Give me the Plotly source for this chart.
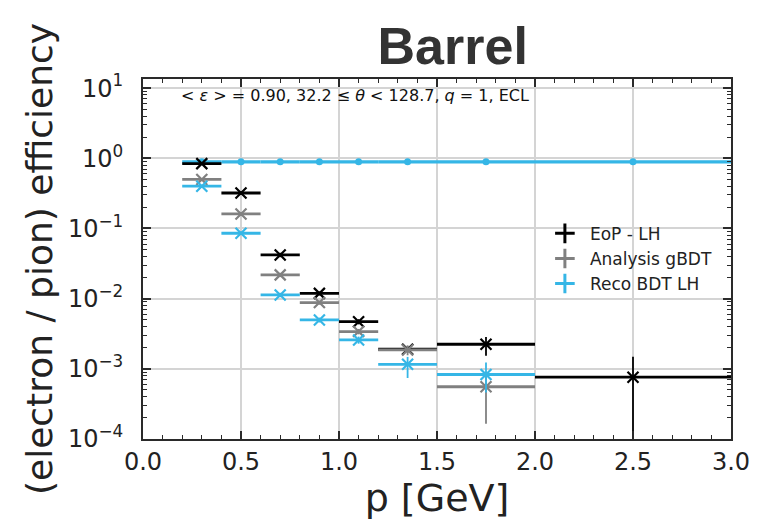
import plotly.graph_objects as go

# momentum bins (GeV): centres and half-widths
bin_centers = [0.3, 0.5, 0.7, 0.9, 1.1, 1.35, 1.75, 2.5]
bin_half_widths = [0.1, 0.1, 0.1, 0.1, 0.1, 0.15, 0.25, 0.5]

# pion misidentification rate per bin (None = no entry)
pion_eop = [0.84, 0.32, 0.042, 0.0119, 0.0047, 0.0019, 0.00224, 0.00076]
pion_eop_up = [0.03, 0.02, 0.003, 0.0008, 0.0004, 0.0002, 0.0006, 0.00073]
pion_eop_down = [0.03, 0.02, 0.003, 0.0008, 0.0004, 0.0002, 0.0007, 0.00075]

pion_gbdt = [0.50, 0.161, 0.0218, 0.0088, 0.0034, 0.00186, 0.000555, None]
pion_gbdt_up = [0.02, 0.01, 0.0015, 0.0006, 0.0003, 0.0003, 0.00035, None]
pion_gbdt_down = [0.02, 0.01, 0.0015, 0.0006, 0.0003, 0.0003, 0.00039, None]

pion_reco = [0.40, 0.0855, 0.0113, 0.00497, 0.00258, 0.00116, 0.00083, None]
pion_reco_up = [0.02, 0.005, 0.0008, 0.0004, 0.0003, 0.00032, 0.0004, None]
pion_reco_down = [0.02, 0.005, 0.0008, 0.0004, 0.0003, 0.00042, 0.00037, None]

# electron efficiency per bin
electron_eff = [0.89, 0.89, 0.89, 0.89, 0.89, 0.89, 0.89, 0.89]

series_names = ["EoP - LH", "Analysis gBDT", "Reco BDT LH"]
series_colors = ["#000000", "#808080", "#35B6E6"]

y_tick_vals = [1e-4, 1e-3, 1e-2, 1e-1, 1e0, 1e1]
y_tick_text = ["10<sup>\u22124</sup>", "10<sup>\u22123</sup>", "10<sup>\u22122</sup>",
               "10<sup>\u22121</sup>", "10<sup>0</sup>", "10<sup>1</sup>"]
x_tick_vals = [0.0, 0.5, 1.0, 1.5, 2.0, 2.5, 3.0]

FONT = "DejaVu Sans"


def keep(values, *others):
    idx = [i for i, v in enumerate(values) if v is not None]
    return [[seq[i] for i in idx] for seq in (values,) + others]


fig = go.Figure()

# electron efficiency band drawn as joined horizontal bin bars
fig.add_trace(go.Scatter(
    x=bin_centers, y=electron_eff, mode="markers",
    marker=dict(color=series_colors[2], size=7, symbol="circle"),
    error_x=dict(type="data", array=bin_half_widths, symmetric=True,
                 thickness=3.2, width=0, color=series_colors[2]),
    showlegend=False, hoverinfo="skip",
))

pion_series = [
    (pion_eop, pion_eop_up, pion_eop_down),
    (pion_gbdt, pion_gbdt_up, pion_gbdt_down),
    (pion_reco, pion_reco_up, pion_reco_down),
]

for (vals, up, down), color in zip(pion_series, series_colors):
    y, x, hw, eu, ed = keep(vals, bin_centers, bin_half_widths, up, down)
    fig.add_trace(go.Scatter(
        x=x, y=y, mode="markers",
        marker=dict(symbol="x-thin-open", size=11, color=color,
                    line=dict(color=color, width=2.2)),
        error_x=dict(type="data", array=hw, symmetric=True,
                     thickness=2.8, width=0, color=color),
        error_y=dict(type="data", array=eu, arrayminus=ed, symmetric=False,
                     thickness=1.8, width=0, color=color),
        showlegend=False,
    ))

# legend entries with errorbar-style glyphs
for name, color in zip(series_names, series_colors):
    fig.add_trace(go.Scatter(
        x=[None], y=[None], mode="markers", name=name,
        marker=dict(symbol="cross-thin-open", size=14, color=color,
                    line=dict(color=color, width=3)),
    ))

fig.add_annotation(
    text="< <i>\u03b5</i> > = 0.90, 32.2 \u2264 <i>\u03b8</i> < 128.7, <i>q</i> = 1, ECL",
    xref="paper", yref="paper", x=0.36, y=0.953,
    xanchor="center", yanchor="middle", showarrow=False,
    font=dict(family=FONT, size=16, color="#111111"),
)

axis_common = dict(
    showline=True, linecolor="#2a2a2a", linewidth=2,
    mirror="allticks", ticks="inside", ticklen=8, tickwidth=1.5,
    tickcolor="#2a2a2a", showgrid=True, gridcolor="#d4d4d4", gridwidth=1.5,
    zeroline=False, tickfont=dict(family=FONT, size=24, color="#222222"),
)

fig.update_xaxes(
    **axis_common, range=[0, 3], tickvals=x_tick_vals, tickformat=".1f",
    minor=dict(ticks="inside", ticklen=4, tickwidth=1.2, tickcolor="#2a2a2a",
               dtick=0.1, showgrid=False),
    title=dict(text="p [GeV]", font=dict(family=FONT, size=38, color="#222222"),
               standoff=6),
)

fig.update_yaxes(
    **axis_common, type="log", range=[-4, 1.13],
    tickvals=y_tick_vals, ticktext=y_tick_text, ticklabelstandoff=13,
    minor=dict(ticks="inside", ticklen=4, tickwidth=1.2, tickcolor="#2a2a2a",
               dtick="D1", showgrid=False),
    title=dict(text="(electron / pion) efficiency",
               font=dict(family=FONT, size=36, color="#222222"), standoff=4),
)

fig.update_layout(
    width=757, height=523,
    margin=dict(l=143, r=26, t=79, b=84, autoexpand=False),
    paper_bgcolor="white", plot_bgcolor="white",
    title=dict(text="<b>Barrel</b>", x=0.598, xanchor="center",
               y=0.912, yanchor="middle",
               font=dict(family="Liberation Sans", size=52, color="#333333")),
    legend=dict(x=0.675, y=0.62, xanchor="left", yanchor="top",
                bgcolor="rgba(0,0,0,0)", borderwidth=0, tracegroupgap=0,
                itemwidth=40,
                font=dict(family=FONT, size=17, color="#222222")),
    showlegend=True,
)

fig.write_html("out.html")
